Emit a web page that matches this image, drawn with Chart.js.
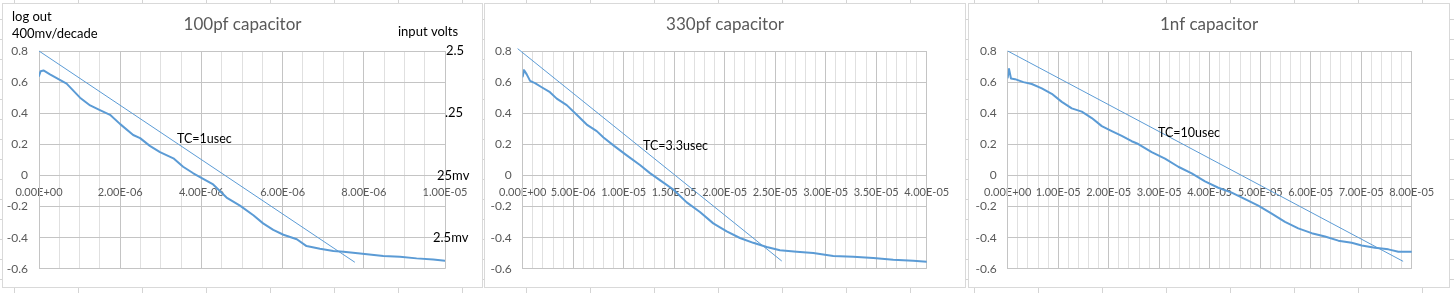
<!DOCTYPE html>
<html>
<head>
<meta charset="utf-8">
<script src="https://cdn.jsdelivr.net/npm/chart.js@4.4.1/dist/chart.umd.min.js"></script>
<style>
  html, body { margin: 0; padding: 0; }
  body {
    width: 1454px;
    height: 293px;
    overflow: hidden;
    position: relative;
    background-color: #fff;
    background-image:
      repeating-linear-gradient(to right, transparent 0, transparent 14px, #d4d4d4 14px, #d4d4d4 15px, transparent 15px, transparent 64px),
      repeating-linear-gradient(to bottom, transparent 0, transparent 19px, #d4d4d4 19px, #d4d4d4 20px, transparent 20px, transparent 20px);
  }
  .box {
    position: absolute;
    top: 3px;
    height: 283px;
    border: 1px solid #d9d9d9;
    background: #fff;
  }
  .box canvas { display: block; }
  #box1 { left: 2px; width: 479px; }
  #box2 { left: 484px; width: 480px; }
  #box3 { left: 968px; width: 480px; }
</style>
</head>
<body>
<div class="box" id="box1"><canvas id="chart-100p" width="479" height="283"></canvas></div>
<div class="box" id="box2"><canvas id="chart-330p" width="480" height="283"></canvas></div>
<div class="box" id="box3"><canvas id="chart-1n" width="480" height="283"></canvas></div>

<script>
/* ===== DATA (time in usec, log out in volts) ===== */

const time100p = [0, 0.04, 0.11, 0.27, 0.48, 0.68, 1.01, 1.26, 1.50, 1.75,
  2.00, 2.32, 2.49, 2.73, 2.98, 3.31, 3.55, 3.80, 4.01, 4.29,
  4.62, 4.95, 5.28, 5.52, 5.77, 6.02, 6.35, 6.59, 6.92, 7.25,
  7.50, 7.91, 8.48, 8.89, 9.30, 9.71, 10.0];
const logOut100p = [0.64, 0.67, 0.675, 0.65, 0.62, 0.59, 0.50, 0.45, 0.42, 0.39,
  0.33, 0.26, 0.24, 0.19, 0.15, 0.11, 0.056, 0.014, -0.017, -0.058,
  -0.142, -0.194, -0.256, -0.308, -0.35, -0.381, -0.41, -0.454, -0.471, -0.485,
  -0.49, -0.502, -0.517, -0.523, -0.533, -0.54, -0.548];
const tcTime100p = [0, 7.78];
const tcLine100p = [0.8, -0.558];

const time330p = [0, 0.13, 0.40, 0.73, 1.22, 1.88, 2.70, 3.37, 4.36, 5.35,
  6.34, 7.33, 8.0, 9.05, 10.30, 11.61, 12.60, 13.76, 14.91, 16.24,
  17.55, 18.87, 20.20, 21.51, 22.83, 24.16, 25.47, 27.13, 28.77, 30.75,
  32.73, 34.71, 36.69, 38.67, 40.0];
const logOut330p = [0.635, 0.677, 0.65, 0.608, 0.594, 0.567, 0.535, 0.494, 0.452, 0.39,
  0.327, 0.285, 0.244, 0.19, 0.129, 0.067, 0.015, -0.038, -0.09, -0.173,
  -0.235, -0.308, -0.36, -0.402, -0.433, -0.46, -0.481, -0.49, -0.498, -0.517,
  -0.523, -0.531, -0.542, -0.548, -0.554];
const tcTime330p = [-0.5, 25.65];
const tcLine330p = [0.815, -0.55];

const time1n = [0, 0.26, 0.65, 1.45, 3.11, 4.77, 6.75, 8.73, 10.71, 12.69,
  14.67, 16.65, 18.63, 20.61, 22.59, 24.55, 25.86, 28.51, 31.15, 33.78,
  36.44, 39.07, 41.70, 44.36, 47.0, 49.62, 52.28, 54.91, 57.54, 60.2,
  62.83, 65.47, 68.12, 70.1, 72.73, 75.37, 77.35, 80.0];
const logOut1n = [0.629, 0.685, 0.623, 0.619, 0.60, 0.588, 0.56, 0.525, 0.473, 0.431,
  0.41, 0.369, 0.317, 0.285, 0.254, 0.22, 0.202, 0.15, 0.108, 0.056,
  0.014, -0.038, -0.079, -0.11, -0.152, -0.194, -0.246, -0.298, -0.34, -0.371,
  -0.392, -0.419, -0.433, -0.45, -0.465, -0.475, -0.49, -0.49];
const tcTime1n = [0, 78.3];
const tcLine1n = [0.8, -0.552];

// input volts labels on the right of the first chart
const inputVoltValues = [0.8, 0.4, 0, -0.4];
const inputVoltLabels = ["2.5", ".25", "25mv", "2.5mv"];

/* ===== STYLE ===== */

const BLUE = "#5b9bd5";
const MAJOR_GRID = "#c4c4c4";
const MINOR_GRID = "#e0e0e0";
const TICK_COLOR = "#595959";
const FONT = "Lato, 'Open Sans', sans-serif";

/* ===== HELPERS ===== */

function points(xs, ys) {
  return xs.map((x, i) => ({ x, y: ys[i] }));
}

// usec -> "5.00E-06" like Excel
function sci(us) {
  if (Math.abs(us) < 1e-9) return "0.00E+00";
  const s = us * 1e-6;
  let exp = Math.floor(Math.log10(s));
  let mant = s / Math.pow(10, exp);
  if (mant >= 9.995) { mant /= 10; exp += 1; }
  return mant.toFixed(2) + "E" + (exp < 0 ? "-" : "+") + String(Math.abs(exp)).padStart(2, "0");
}

function isMultiple(v, step) {
  const r = v / step;
  return Math.abs(r - Math.round(r)) < 1e-6;
}

const notesPlugin = {
  id: "notes",
  afterDraw(chart, args, opts) {
    const ctx = chart.ctx;
    const area = chart.chartArea;
    ctx.save();
    ctx.textBaseline = "middle";
    (opts.items || []).forEach(t => {
      ctx.font = `${t.size}px ${FONT}`;
      ctx.fillStyle = t.color || "#000";
      ctx.textAlign = t.align || "left";
      const x = t.dx !== undefined ? area.right + t.dx : t.x;
      const y = t.value !== undefined ? chart.scales.y.getPixelForValue(t.value) + (t.dy || 0) : t.y;
      ctx.fillText(t.text, x, y);
    });
    ctx.restore();
  }
};

/* ===== CHARTS ===== */

function createChart(id, c) {
  const canvas = document.getElementById(id);
  return new Chart(canvas, {
    type: "line",
    data: {
      datasets: [
        {
          data: points(c.times, c.values), borderColor: BLUE, borderWidth: 2,
          borderJoinStyle: "round", borderCapStyle: "round", pointRadius: 0, tension: 0
        },
        { data: points(c.tcTimes, c.tcValues), borderColor: BLUE, borderWidth: 1, pointRadius: 0, clip: false }
      ]
    },
    plugins: [notesPlugin],
    options: {
      responsive: false,
      animation: false,
      layout: { padding: { top: 47, bottom: 12, left: 0, right: c.rightPad } },
      scales: {
        x: {
          type: "linear",
          min: 0,
          max: c.xMax,
          position: { y: 0 },
          border: { display: true, color: MAJOR_GRID },
          grid: {
            drawTicks: false,
            color: ctx => (ctx.tick && isMultiple(ctx.tick.value, c.majorStep)) ? MAJOR_GRID : MINOR_GRID
          },
          ticks: {
            stepSize: c.minorStep,
            maxTicksLimit: 200,
            autoSkip: false,
            maxRotation: 0,
            padding: 10,
            color: TICK_COLOR,
            font: { family: FONT, size: 11 },
            callback: v => isMultiple(v, c.majorStep) ? sci(v) : ""
          }
        },
        y: {
          min: -0.6,
          max: 0.8,
          border: { display: true, color: MAJOR_GRID },
          afterFit: s => { s.width = c.leftWidth; },
          grid: {
            drawTicks: false,
            color: ctx => (ctx.tick && Math.round(ctx.tick.value * 10) % 2 === 0) ? MAJOR_GRID : MINOR_GRID
          },
          ticks: {
            stepSize: 0.1,
            maxTicksLimit: 200,
            padding: 11,
            color: TICK_COLOR,
            font: { family: FONT, size: 12 },
            callback: v => {
              const k = Math.round(v * 10);
              return k % 2 === 0 ? String(k / 10) : "";
            }
          }
        }
      },
      plugins: {
        legend: { display: false },
        tooltip: { enabled: false },
        notes: { items: c.notes }
      }
    }
  });
}

function titleNote(text, width) {
  return { text, x: width / 2, y: 21, size: 17, color: TICK_COLOR, align: "center" };
}

const inputVoltOffsets = [1, 0, -8, -12];

createChart("chart-100p", {
  times: time100p, values: logOut100p, tcTimes: tcTime100p, tcValues: tcLine100p,
  xMax: 10, minorStep: 0.5, majorStep: 2, leftWidth: 36, rightPad: 37,
  notes: [
    titleNote("100pf capacitor", 479),
    { text: "log out", x: 9, y: 13, size: 13 },
    { text: "400mv/decade", x: 9, y: 30, size: 13 },
    { text: "input volts", x: 395, y: 28, size: 13 },
    { text: "TC=1usec", x: 174, y: 135, size: 12.5 }
  ].concat(inputVoltLabels.map((text, i) => ({
    text, value: inputVoltValues[i], dx: inputVoltOffsets[i], size: 13
  })))
});

createChart("chart-330p", {
  times: time330p, values: logOut330p, tcTimes: tcTime330p, tcValues: tcLine330p,
  xMax: 40, minorStep: 1, majorStep: 5, leftWidth: 37.7, rightPad: 38.3,
  notes: [
    titleNote("330pf capacitor", 480),
    { text: "TC=3.3usec", x: 158, y: 142, size: 12.5 }
  ]
});

createChart("chart-1n", {
  times: time1n, values: logOut1n, tcTimes: tcTime1n, tcValues: tcLine1n,
  xMax: 80, minorStep: 2, majorStep: 10, leftWidth: 38.7, rightPad: 37.3,
  notes: [
    titleNote("1nf capacitor", 480),
    { text: "TC=10usec", x: 189, y: 128.5, size: 12.5 }
  ]
});
</script>
</body>
</html>
